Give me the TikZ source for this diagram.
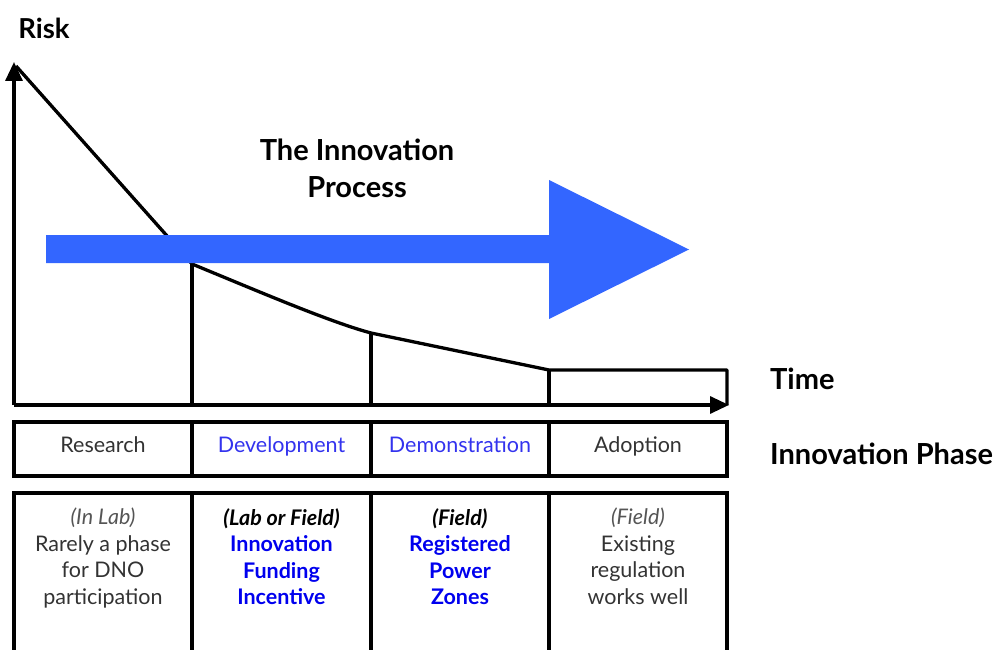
\documentclass[tikz,border=0pt]{standalone}
\usepackage{fontspec}
\setmainfont{Lato}
\usetikzlibrary{arrows.meta}
\definecolor{flowblue}{HTML}{3366FF}
\definecolor{phaseblue}{HTML}{3333EE}
\definecolor{boldblue}{HTML}{0000EE}
\definecolor{inkgray}{HTML}{333333}
\definecolor{notegray}{HTML}{555555}
\begin{document}
\begin{tikzpicture}[x=1pt,y=-1pt,
  rule/.style={line width=3.3pt, black},
  axis/.style={rule, -{Triangle[length=19pt,width=17pt]}},
  phasecell/.style={draw, line width=3.3pt, minimum width=178pt, minimum height=54pt,
    inner sep=0pt, text height=15pt, text depth=9pt, font=\fontsize{21.5}{24}\selectfont},
  notecell/.style={draw, line width=3.3pt, minimum width=178pt, minimum height=200pt, inner sep=0pt},
  notetext/.style={anchor=north, align=center, inner sep=0pt,
    font=\fontsize{21.5}{26.5}\selectfont},
  heading/.style={font=\bfseries\fontsize{29}{37}\selectfont, inner sep=0pt}
]
\useasboundingbox (0,0) rectangle (999,650);
\clip (0,0) rectangle (999,650);

% axes
\coordinate (origin) at (14,405);
\coordinate (risktop) at (14,62);
\coordinate (timeend) at (729,405);
\draw[axis] (origin) -- (risktop);
\draw[axis] (origin) -- (timeend);

% risk profile over the phases
\coordinate (r1) at (192,264);
\coordinate (r2) at (371,333);
\coordinate (r3) at (549,370);
\coordinate (r4) at (727,370);
\draw[rule, line join=round] (16,66) -- (r1) .. controls (260,292) and (330,322) .. (r2) -- (r3) -- (r4) -- (727,405);
\draw[rule] (r1) -- (192,405);
\draw[rule] (r2) -- (371,405);
\draw[rule] (r3) -- (549,405);

% the big process arrow
\fill[flowblue] (46,235) -- (549,235) -- (549,180) -- (689,249.5) -- (549,319) -- (549,263) -- (46,263) -- cycle;

% labels
\node[heading, font=\bfseries\fontsize{27.5}{37}\selectfont] (risk) at (44,28) {Risk};
\node[heading, align=center] (process) at (357,168) {The Innovation\\Process};
\node[heading, anchor=west] (time) at (770,379) {Time};
\node[heading, anchor=west] (phase) at (770,454) {Innovation Phase};

% phase row
\node[phasecell, text=inkgray] (research) at (103,449) {Research};
\node[phasecell, text=phaseblue] (development) at (281.5,449) {Development};
\node[phasecell, text=phaseblue] (demonstration) at (460,449) {Demonstration};
\node[phasecell, text=inkgray] (adoption) at (638,449) {Adoption};

% notes row
\node[notecell] (nresearch) at (103,593) {};
\node[notecell] (ndevelopment) at (281.5,593) {};
\node[notecell] (ndemonstration) at (460,593) {};
\node[notecell] (nadoption) at (638,593) {};

\node[notetext, text=inkgray] (tresearch) at (103,508)
  {{\color{notegray}\itshape(In Lab)}\\Rarely a phase\\for DNO\\participation};
\node[notetext] (tdevelopment) at (281.5,508)
  {{\bfseries\itshape(Lab or Field)}\\{\bfseries\color{boldblue}Innovation}\\{\bfseries\color{boldblue}Funding}\\{\bfseries\color{boldblue}Incentive}};
\node[notetext] (tdemonstration) at (460,508)
  {{\bfseries\itshape(Field)}\\{\bfseries\color{boldblue}Registered}\\{\bfseries\color{boldblue}Power}\\{\bfseries\color{boldblue}Zones}};
\node[notetext, text=inkgray] (tadoption) at (638,508)
  {{\color{notegray}\itshape(Field)}\\Existing\\regulation\\works well};
\end{tikzpicture}
\end{document}
